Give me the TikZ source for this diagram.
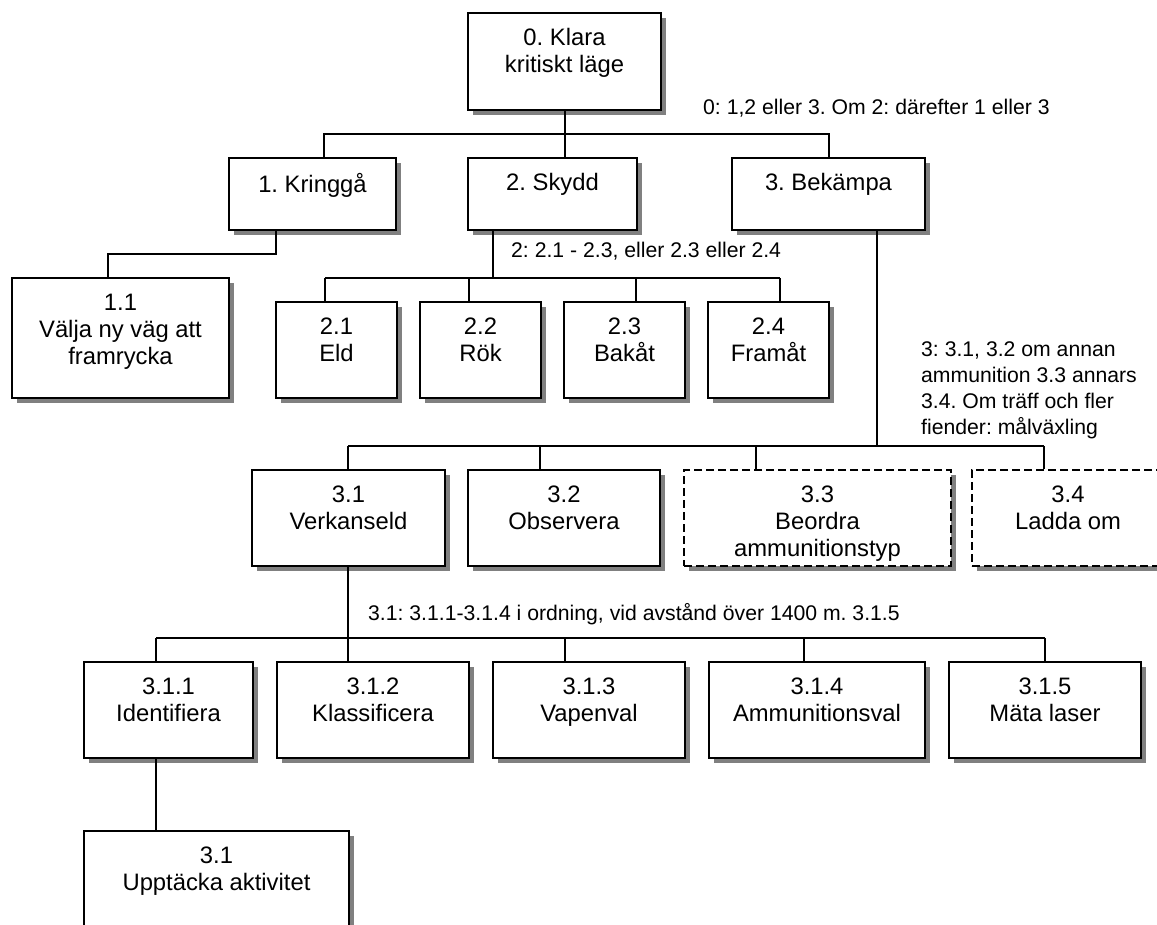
\documentclass[tikz,border=0pt]{standalone}
\usepackage{fontspec}
\setmainfont{Liberation Sans}
\frenchspacing
\usetikzlibrary{shadows}

\begin{document}
\begin{tikzpicture}[x=1pt,y=-1pt,
    box/.style 2 args={draw, fill=white, line width=2pt, inner sep=0pt,
      minimum width=#1pt, minimum height=#2pt,
      drop shadow={shadow xshift=5pt,shadow yshift=-5pt,fill=black!50,opacity=1}},
    dbox/.style 2 args={box={#1}{#2}, dash pattern=on 8pt off 4pt},
    txt/.style={anchor=north, inner sep=0pt, yshift=-16.5pt, align=center,
      font=\fontsize{23.8}{27}\selectfont},
    note/.style={inner sep=0pt, align=left, font=\fontsize{21.2}{26.3}\selectfont},
    link/.style={line width=2pt}]
  \useasboundingbox (0,0) rectangle (1157,925);
  \clip (0,0) rectangle (1157,925);

  % boxes
  \node[box={193}{97}, label={[txt]north:{0. Klara\\kritiskt läge}}] (n0) at (564.5,61.5) {};
  \node[box={167}{72}, label={[txt]north:{1. Kringgå}}] (n1) at (312.5,194) {};
  \node[box={169}{72}, label={[txt]north:{2. Skydd}}] (n2) at (552.5,194) {};
  \node[box={193}{72}, label={[txt]north:{3. Bekämpa}}] (n3) at (828.5,194) {};
  \node[box={217}{120}, label={[txt]north:{1.1\\Välja ny väg att\\framrycka}}] (n11) at (120.5,338) {};
  \node[box={121}{96}, label={[txt]north:{2.1\\Eld}}] (n21) at (336.5,350) {};
  \node[box={121}{96}, label={[txt]north:{2.2\\Rök}}] (n22) at (480.5,350) {};
  \node[box={121}{96}, label={[txt]north:{2.3\\Bakåt}}] (n23) at (624.5,350) {};
  \node[box={121}{96}, label={[txt]north:{2.4\\Framåt}}] (n24) at (768.5,350) {};
  \node[box={193}{96}, label={[txt]north:{3.1\\Verkanseld}}] (n31) at (348.5,518) {};
  \node[box={192}{96}, label={[txt]north:{3.2\\Observera}}] (n32) at (564,518) {};
  \node[dbox={267}{96}, label={[txt]north:{3.3\\Beordra\\ammunitionstyp}}] (n33) at (817.5,518) {};
  \node[dbox={192}{96}, label={[txt]north:{3.4\\Ladda om}}] (n34) at (1068,518) {};
  \node[box={169}{96}, label={[txt]north:{3.1.1\\Identifiera}}] (n311) at (168.5,710) {};
  \node[box={192}{96}, label={[txt]north:{3.1.2\\Klassificera}}] (n312) at (373,710) {};
  \node[box={192}{96}, label={[txt]north:{3.1.3\\Vapenval}}] (n313) at (589,710) {};
  \node[box={216}{96}, label={[txt]north:{3.1.4\\Ammunitionsval}}] (n314) at (817,710) {};
  \node[box={192}{96}, label={[txt]north:{3.1.5\\Mäta laser}}] (n315) at (1045,710) {};
  \node[box={265}{130}, label={[txt]north:{3.1\\Upptäcka aktivitet}}] (n3111) at (216.5,896) {};

  % 0 -> 1, 2, 3
  \coordinate (b0l) at (324,134);
  \coordinate (b0r) at (829,134);
  \draw[link] (n0.south) -- (n0.south |- n2.north);
  \draw[link] (n1.north -| b0l) |- (b0r) -- (n3.north -| b0r);

  % 1 -> 1.1
  \coordinate (b1r) at (276,254);
  \coordinate (b1l) at (108,254);
  \draw[link] (n1.south -| b1r) -- (b1r) -- (b1l) -- (n11.north -| b1l);

  % 2 -> 2.x
  \coordinate (b2) at (493,278);
  \draw[link] (n2.south -| b2) -- (b2);
  \foreach \n/\x in {21/325,22/469,23/636,24/780}{
    \coordinate (d\n) at (\x,278);
    \draw[link] (d\n) -- (n\n.north -| d\n);
  }
  \draw[link] (d21) -- (d24);

  % 3 -> 3.x
  \coordinate (b3) at (877,446);
  \draw[link] (n3.south -| b3) -- (b3);
  \foreach \n/\x in {31/348,32/540,33/756,34/1044}{
    \coordinate (d\n) at (\x,446);
    \draw[link] (d\n) -- (n\n.north -| d\n);
  }
  \draw[link] (d31) -- (d34);

  % 3.1 -> 3.1.x
  \foreach \n/\x in {311/156,312/348,313/565,314/804,315/1045}{
    \coordinate (d\n) at (\x,638);
    \draw[link] (d\n) -- (n\n.north -| d\n);
  }
  \draw[link] (n31.south -| d312) -- (d312);
  \draw[link] (d311) -- (d315);
  \draw[link] (n311.south -| d311) -- (n3111.north -| d311);

  % notes
  \node[note, anchor=base west] (l0) at (703,115) {0: 1,2 eller 3. Om 2: därefter 1 eller 3};
  \node[note, anchor=base west] (l2) at (511,258) {2: 2.1 - 2.3, eller 2.3 eller 2.4};
  \node[note, anchor=north west] (l3) at (921,341) {3: 3.1, 3.2 om annan\\ammunition 3.3 annars\\3.4. Om träff och fler\\fiender: målväxling};
  \node[note, anchor=base west] (l31) at (368,620) {3.1: 3.1.1-3.1.4 i ordning, vid avstånd över 1400 m. 3.1.5};
\end{tikzpicture}
\end{document}
